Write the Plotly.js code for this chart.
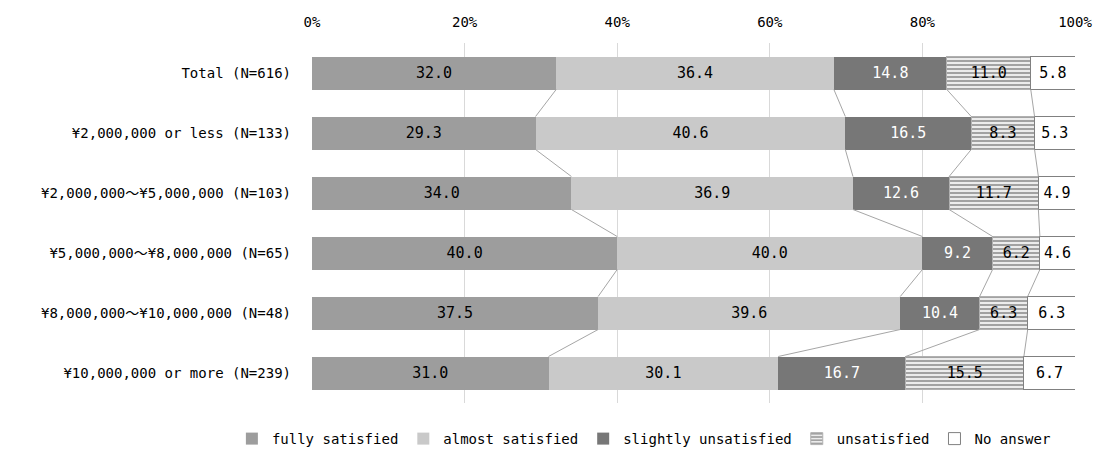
<!DOCTYPE html>
<html>
<head>
<meta charset="utf-8">
<script src="https://cdn.plot.ly/plotly-3.0.1.min.js"></script>
<style>html,body{margin:0;padding:0;background:#fff;}#chart{width:1103px;height:450px;}</style>
</head>
<body>
<div id="chart"></div>
<script>
const categories = ["Total (N=616)", "¥2,000,000 or less (N=133)", "¥2,000,000～¥5,000,000 (N=103)", "¥5,000,000～¥8,000,000 (N=65)", "¥8,000,000～¥10,000,000 (N=48)", "¥10,000,000 or more (N=239)"];
const seriesNames = ["fully satisfied", "almost satisfied", "slightly unsatisfied", "unsatisfied", "No answer"];
const fullySatisfied = [32.0, 29.3, 34.0, 40.0, 37.5, 31.0];
const almostSatisfied = [36.4, 40.6, 36.9, 40.0, 39.6, 30.1];
const slightlyUnsatisfied = [14.8, 16.5, 12.6, 9.2, 10.4, 16.7];
const unsatisfied = [11.0, 8.3, 11.7, 6.2, 6.3, 15.5];
const noAnswer = [5.8, 5.3, 4.9, 4.6, 6.3, 6.7];
const xTicks = [0, 20, 40, 60, 80, 100];

const FONT = "DejaVu Sans Mono, Noto Sans CJK JP, monospace";
const series = [fullySatisfied, almostSatisfied, slightlyUnsatisfied, unsatisfied, noAnswer];
const styles = [
  {marker: {color: "#9d9d9d"}, tc: "#000"},
  {marker: {color: "#c9c9c9"}, tc: "#000"},
  {marker: {color: "#777777"}, tc: "#fff"},
  {marker: {color: "#e6e6e6", pattern: {shape: "-", fgcolor: "#9a9a9a", bgcolor: "#ececec", size: 4, solidity: 0.45}, line: {color: "#b0b0b0", width: 1}}, tc: "#000"},
  {marker: {color: "#ffffff", line: {color: "#808080", width: 1}}, tc: "#000"}
];
const yIdx = categories.map((_, i) => i);
const BW = 0.55;
const traces = [];
series.forEach((vals, s) => {
  traces.push({
    type: "bar", orientation: "h", name: seriesNames[s],
    y: yIdx, x: vals, width: BW,
    marker: styles[s].marker,
    text: vals.map(v => v.toFixed(1)),
    textposition: "inside", insidetextanchor: "middle", textangle: 0,
    constraintext: "none",
    textfont: {family: FONT, size: 15, color: styles[s].tc},
    hoverinfo: "x+name"
  });
});
// connector (series) lines
const cum = categories.map((_, i) => {
  let c = 0; const out = [];
  for (let s = 0; s < 4; s++) { c += series[s][i]; out.push(c); }
  return out;
});
const lx = [], ly = [];
for (let s = 0; s < 4; s++) {
  for (let i = 0; i < categories.length - 1; i++) {
    lx.push(cum[i][s], cum[i + 1][s], null);
    ly.push(i + BW / 2, i + 1 - BW / 2, null);
  }
}
traces.push({type: "scatter", mode: "lines", x: lx, y: ly, line: {color: "#a6a6a6", width: 1}, showlegend: false, hoverinfo: "skip"});

const layout = {
  width: 1103, height: 450,
  margin: {l: 312, r: 28, t: 43, b: 47, autoexpand: false},
  barmode: "stack",
  paper_bgcolor: "#fff", plot_bgcolor: "#fff",
  font: {family: FONT, size: 14, color: "#000"},
  xaxis: {side: "top", range: [0, 100], tickvals: xTicks, ticktext: xTicks.map(v => v + "%"),
    showgrid: true, gridcolor: "#d9d9d9", gridwidth: 1, zeroline: false, showline: false,
    ticks: "", ticklabelstandoff: 12, tickfont: {size: 14, family: FONT}},
  yaxis: {range: [5.5, -0.5], tickvals: yIdx, ticktext: categories, showgrid: false, zeroline: false,
    showline: false, ticks: "", ticklabelstandoff: 20, tickfont: {size: 14, family: FONT}},
  legend: {orientation: "h", xref: "paper", yref: "paper", x: -0.105, xanchor: "left", y: -0.1, yanchor: "middle",
    font: {size: 14, family: FONT}, traceorder: "normal", itemwidth: 30, tracegroupgap: 0},
  showlegend: true
};
Plotly.newPlot("chart", traces, layout, {displayModeBar: false, staticPlot: true});
</script>
</body>
</html>
